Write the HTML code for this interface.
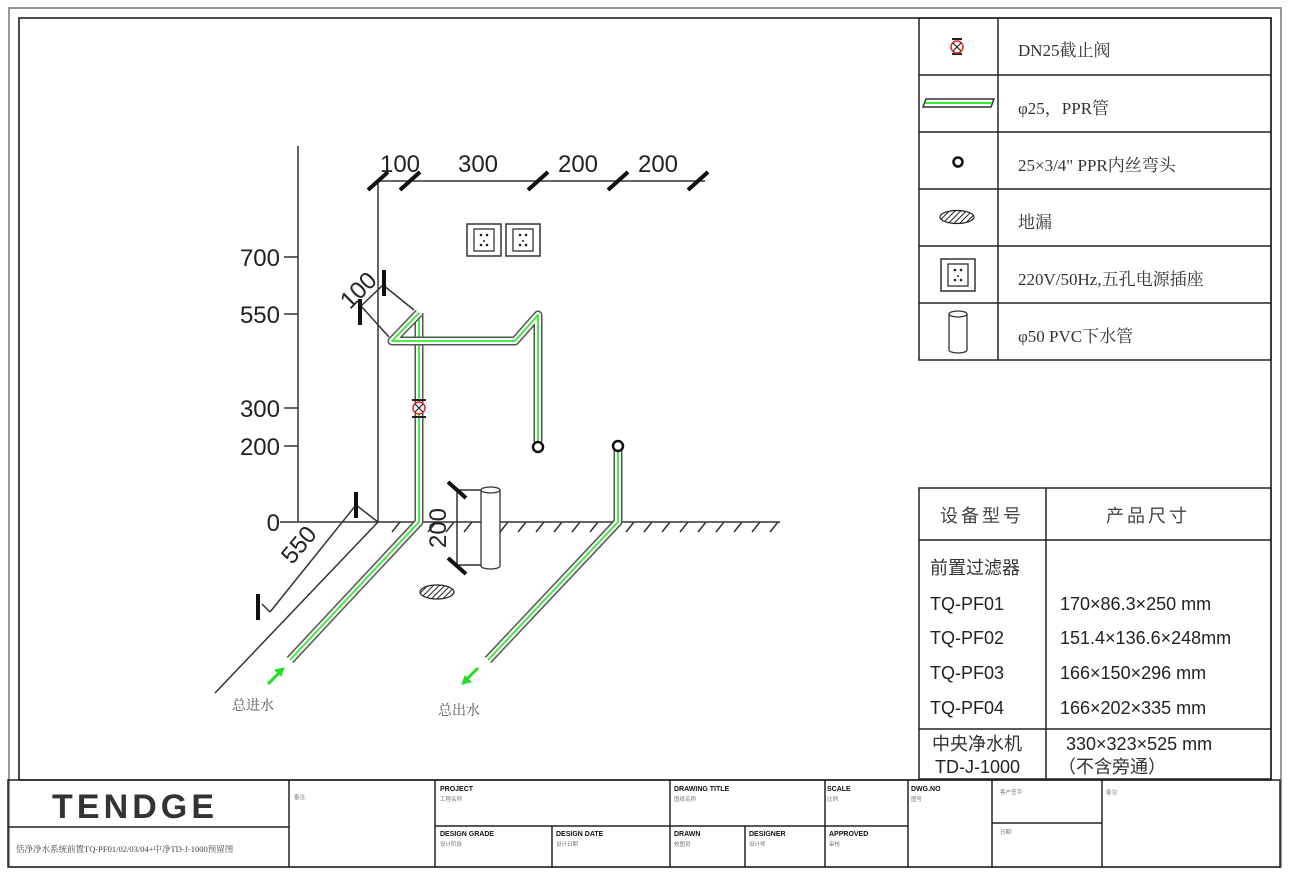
<!DOCTYPE html>
<html><head><meta charset="utf-8"><style>
html,body{margin:0;padding:0;background:#fff}
svg{display:block}
text{font-family:"Liberation Sans","Noto Sans CJK SC",sans-serif}
.s{font-family:"Liberation Serif","Noto Serif CJK SC",serif}
</style></head><body>
<svg width="1289" height="882" viewBox="0 0 1289 882" xmlns="http://www.w3.org/2000/svg">
<defs>
<pattern id="h" width="4" height="4" patternUnits="userSpaceOnUse" patternTransform="rotate(45)"><rect width="4" height="4" fill="#fff"/><line x1="0" y1="0" x2="0" y2="4" stroke="#222" stroke-width="2"/></pattern>
<g id="sock"><rect x="0" y="0" width="34" height="32" fill="#fff" stroke="#333" stroke-width="1.5"/><rect x="7" y="5" width="20" height="22" fill="none" stroke="#333" stroke-width="1.3"/><circle cx="14" cy="11" r="1.3" fill="#222"/><circle cx="20" cy="11" r="1.3" fill="#222"/><circle cx="17" cy="17" r="1" fill="#222"/><circle cx="14" cy="21" r="1.3" fill="#222"/><circle cx="20" cy="21" r="1.3" fill="#222"/></g>
</defs>
<!-- frames -->
<rect x="9" y="8" width="1272" height="859" fill="none" stroke="#777" stroke-width="1.5"/>
<rect x="19" y="18" width="1252" height="762" fill="none" stroke="#111" stroke-width="1.5"/>

<!-- legend -->
<g stroke="#222" stroke-width="1.5" fill="none">
<rect x="919" y="18" width="352" height="342"/>
<line x1="998" y1="18" x2="998" y2="360"/>
<line x1="919" y1="75" x2="1271" y2="75"/>
<line x1="919" y1="132" x2="1271" y2="132"/>
<line x1="919" y1="189" x2="1271" y2="189"/>
<line x1="919" y1="246" x2="1271" y2="246"/>
<line x1="919" y1="303" x2="1271" y2="303"/>
</g>
<g class="s" font-size="17" fill="#333">
<text class="s" x="1018" y="56">DN25截止阀</text>
<text class="s" x="1018" y="114">φ25，PPR管</text>
<text class="s" x="1018" y="171">25×3/4" PPR内丝弯头</text>
<text class="s" x="1018" y="228">地漏</text>
<text class="s" x="1018" y="285">220V/50Hz,五孔电源插座</text>
<text class="s" x="1018" y="342">φ50 PVC下水管</text>
</g>
<!-- legend icons -->
<g>
<rect x="952" y="38" width="10" height="2" fill="#222"/><rect x="952" y="53" width="10" height="2" fill="#222"/>
<circle cx="957" cy="47" r="6" fill="none" stroke="#e22" stroke-width="1.5"/>
<path d="M953 43l8 8M961 43l-8 8" stroke="#222" stroke-width="1.2"/>
<path d="M926 99 L994 99 L991 107 L923 107 Z" fill="#fff" stroke="#333" stroke-width="1.5"/>
<line x1="925" y1="103" x2="992" y2="103" stroke="#3e3" stroke-width="2"/>
<circle cx="958" cy="162" r="4.5" fill="none" stroke="#111" stroke-width="2.5"/>
<ellipse cx="957" cy="217" rx="17" ry="6.5" fill="url(#h)" stroke="#222" stroke-width="1.2"/>
<use href="#sock" x="941" y="259" transform="translate(0,0)"/>
<path d="M949 314 v36 a9 3 0 0 0 18 0 v-36" fill="#fff" stroke="#333" stroke-width="1.3"/>
<ellipse cx="958" cy="314" rx="9" ry="3" fill="#fff" stroke="#333" stroke-width="1.3"/>
</g>

<!-- equipment table -->
<g stroke="#222" stroke-width="1.5" fill="none">
<rect x="919" y="488" width="352" height="291"/>
<line x1="1046" y1="488" x2="1046" y2="779"/>
<line x1="919" y1="540" x2="1271" y2="540"/>
<line x1="919" y1="729" x2="1271" y2="729"/>
</g>
<g font-size="18" fill="#222">
<text x="982" y="522" text-anchor="middle" letter-spacing="3" fill="#444">设备型号</text>
<text x="1148" y="522" text-anchor="middle" letter-spacing="3" fill="#444">产品尺寸</text>
<text x="930" y="574" fill="#333">前置过滤器</text>
<text x="930" y="610">TQ-PF01</text><text x="1060" y="610">170×86.3×250 mm</text>
<text x="930" y="644">TQ-PF02</text><text x="1060" y="644">151.4×136.6×248mm</text>
<text x="930" y="679">TQ-PF03</text><text x="1060" y="679">166×150×296 mm</text>
<text x="930" y="714">TQ-PF04</text><text x="1060" y="714">166×202×335 mm</text>
<text x="932" y="750" fill="#333">中央净水机</text><text x="1066" y="750">330×323×525 mm</text>
<text x="935" y="773">TD-J-1000</text><text x="1058" y="773" fill="#333">（不含旁通）</text>
</g>

<!-- title block -->
<g stroke="#222" stroke-width="1.5" fill="none">
<rect x="8" y="780" width="1272" height="87"/>
<line x1="8" y1="827" x2="289" y2="827"/>
<line x1="289" y1="780" x2="289" y2="867"/>
<line x1="435" y1="780" x2="435" y2="867"/>
<line x1="435" y1="826" x2="908" y2="826"/>
<line x1="552" y1="826" x2="552" y2="867"/>
<line x1="670" y1="780" x2="670" y2="867"/>
<line x1="745" y1="826" x2="745" y2="867"/>
<line x1="825" y1="780" x2="825" y2="867"/>
<line x1="908" y1="780" x2="908" y2="867"/>
<line x1="992" y1="780" x2="992" y2="867"/>
<line x1="1102" y1="780" x2="1102" y2="867"/>
<line x1="992" y1="823" x2="1102" y2="823"/>
</g>
<text x="134" y="818" text-anchor="middle" font-size="34" font-weight="bold" fill="#333" letter-spacing="2" textLength="164">TENDGE</text>
<text x="16" y="852" font-size="8.5" fill="#444" class="s">恬净净水系统前置TQ-PF01/02/03/04+中净TD-J-1000预留图</text>
<g font-size="7" font-weight="bold" fill="#111">
<text x="440" y="791">PROJECT</text><text x="674" y="791">DRAWING TITLE</text><text x="827" y="791">SCALE</text><text x="911" y="791">DWG.NO</text>
<text x="440" y="836">DESIGN GRADE</text><text x="556" y="836">DESIGN DATE</text><text x="674" y="836">DRAWN</text><text x="749" y="836">DESIGNER</text><text x="829" y="836">APPROVED</text>
</g>
<g font-size="5.5" fill="#777">
<text x="440" y="801">工程名称</text><text x="674" y="801">图纸名称</text><text x="827" y="801">比例</text><text x="911" y="801">图号</text>
<text x="440" y="846">设计阶段</text><text x="556" y="846">设计日期</text><text x="674" y="846">校图员</text><text x="749" y="846">设计师</text><text x="829" y="846">审核</text>
<text x="294" y="799">备注:</text><text x="1000" y="794">客户签字:</text><text x="1106" y="794">备注:</text><text x="1000" y="834">日期:</text>
</g>

<!-- diagram lines -->
<g stroke="#333" stroke-width="1.5" fill="none">
<line x1="298" y1="146" x2="298" y2="522"/>
<line x1="284" y1="257" x2="298" y2="257"/>
<line x1="284" y1="314" x2="298" y2="314"/>
<line x1="284" y1="408" x2="298" y2="408"/>
<line x1="284" y1="446" x2="298" y2="446"/>
<line x1="280" y1="522" x2="780" y2="522"/>
<line x1="378" y1="180" x2="378" y2="522"/>
<line x1="378" y1="181" x2="705" y2="181"/>
<line x1="378" y1="522" x2="215" y2="693"/>
<line x1="356" y1="505" x2="378" y2="522"/>
<line x1="356" y1="505" x2="270" y2="612"/>
<line x1="262" y1="604" x2="270" y2="612"/>
<line x1="383" y1="285" x2="414" y2="310"/>
<line x1="361" y1="306" x2="389" y2="337"/>
<line x1="383" y1="285" x2="361" y2="306"/>
<line x1="457" y1="490" x2="457" y2="565"/>
<line x1="457" y1="490" x2="485" y2="490"/>
<line x1="457" y1="565" x2="485" y2="565"/>
</g>
<!-- hatching -->
<g stroke="#333" stroke-width="1.5">
<path d="M392 532l8-10M410 532l8-10M428 532l8-10M446 532l8-10M464 532l8-10M482 532l8-10M500 532l8-10M518 532l8-10M536 532l8-10M554 532l8-10M572 532l8-10M590 532l8-10M608 532l8-10M626 532l8-10M644 532l8-10M662 532l8-10M680 532l8-10M698 532l8-10M716 532l8-10M734 532l8-10M752 532l8-10M770 532l8-10"/>
</g>
<!-- tick slashes -->
<g stroke="#111" stroke-width="4">
<path d="M368 190l20-18M400 190l20-18M528 190l20-18M608 190l20-18M688 190l20-18"/>
<path d="M356 492v26M384 296v-26M360 299v26M258 594v26"/>
<path d="M448 482l18 16M448 558l18 16"/>
</g>
<!-- dim labels -->
<g font-size="24" fill="#222">
<text x="280" y="266" text-anchor="end">700</text>
<text x="280" y="323" text-anchor="end">550</text>
<text x="280" y="417" text-anchor="end">300</text>
<text x="280" y="455" text-anchor="end">200</text>
<text x="280" y="531" text-anchor="end">0</text>
<text x="400" y="172" text-anchor="middle">100</text>
<text x="478" y="172" text-anchor="middle">300</text>
<text x="578" y="172" text-anchor="middle">200</text>
<text x="658" y="172" text-anchor="middle">200</text>
<text transform="translate(364,296) rotate(-45)" text-anchor="middle">100</text>
<text transform="translate(305,550) rotate(-50)" text-anchor="middle">550</text>
<text transform="translate(446,528) rotate(-90)" text-anchor="middle">200</text>
</g>
<!-- sockets -->
<use href="#sock" x="467" y="224"/>
<use href="#sock" x="506" y="224"/>
<!-- pipes -->
<g fill="none" stroke-linejoin="round" stroke-linecap="butt">
<path d="M419 313 L419 522 L290 660" stroke="#555" stroke-width="9"/>
<path d="M419 313 L419 522 L290 660" stroke="#fff" stroke-width="6"/>
<path d="M419 313 L419 522 L290 660" stroke="#3e3" stroke-width="1.8"/>
<path d="M419 313 L392 341 L515 341 L538 315 L538 442" stroke="#555" stroke-width="9"/>
<path d="M419 313 L392 341 L515 341 L538 315 L538 442" stroke="#fff" stroke-width="6"/>
<path d="M419 313 L392 341 L515 341 L538 315 L538 442" stroke="#3e3" stroke-width="1.8"/>
<path d="M618 450 L618 522 L488 660" stroke="#555" stroke-width="9"/>
<path d="M618 450 L618 522 L488 660" stroke="#fff" stroke-width="6"/>
<path d="M618 450 L618 522 L488 660" stroke="#3e3" stroke-width="1.8"/>
</g>
<circle cx="538" cy="447" r="5" fill="#fff" stroke="#111" stroke-width="2.5"/>
<circle cx="618" cy="446" r="5" fill="#fff" stroke="#111" stroke-width="2.5"/>
<!-- valve -->
<rect x="412" y="399" width="14" height="2" fill="#222"/><rect x="412" y="416" width="14" height="2" fill="#222"/>
<circle cx="419" cy="408" r="6" fill="#fff" stroke="#e22" stroke-width="1.5"/>
<path d="M415 404l8 8M423 404l-8 8" stroke="#222" stroke-width="1.2"/>
<!-- cylinder -->
<path d="M481 490 v76 a9.5 3 0 0 0 19 0 v-76" fill="#fff" stroke="#333" stroke-width="1.3"/>
<ellipse cx="490.5" cy="490" rx="9.5" ry="3" fill="#fff" stroke="#333" stroke-width="1.3"/>
<!-- floor drain -->
<ellipse cx="437" cy="592" rx="17" ry="7" fill="url(#h)" stroke="#222" stroke-width="1.2"/>
<!-- arrows -->
<g stroke="#2d2" stroke-width="3" fill="#2d2">
<line x1="268" y1="684" x2="280" y2="672"/>
<path d="M284 668 l-9 2 l6 6z" stroke-width="1"/>
<line x1="478" y1="668" x2="466" y2="680"/>
<path d="M462 684 l9-2 l-6-6z" stroke-width="1"/>
</g>
<text x="232" y="710" font-size="14" fill="#555" class="s">总进水</text>
<text x="438" y="715" font-size="14" fill="#555" class="s">总出水</text>
</svg>
</body></html>
